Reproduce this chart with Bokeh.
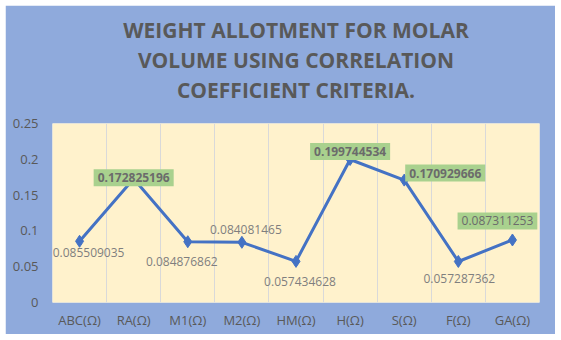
from bokeh.plotting import figure
from bokeh.models import (Title, FixedTicker, Range1d, Grid, Label)
from bokeh.embed import file_html
from bokeh.resources import INLINE

categories = ["ABC(Ω)", "RA(Ω)", "M1(Ω)", "M2(Ω)", "HM(Ω)", "H(Ω)", "S(Ω)", "F(Ω)", "GA(Ω)"]
weights = [0.085509035, 0.172825196, 0.084876862, 0.084081465, 0.057434628,
           0.199744534, 0.170929666, 0.057287362, 0.087311253]
y_ticks = [0, 0.05, 0.1, 0.15, 0.2, 0.25]
y_tick_labels = ["0", "0.05", "0.1", "0.15", "0.2", "0.25"]
title_lines = ["WEIGHT ALLOTMENT FOR MOLAR", "VOLUME USING CORRELATION", "COEFFICIENT CRITERIA."]

# label placement (screen px offsets, +y = up) and style
x_off = [9, 0, -6, 4, 4, 0, 41, 1, -15]
y_off = [-11, 1, -20, 13, -20, 8, 7, -17, 19]
boxed = [False, True, False, False, False, True, True, False, True]
bold = [False, True, False, False, False, True, True, False, False]

BLUE_BG = "#8FAADC"
CREAM = "#FFF2CC"
GREEN = "#A9D18E"
GRAY = "#595959"
LINE = "#4472C4"

xs = [i + 0.5 for i in range(len(categories))]

p = figure(width=550, height=329, output_backend="svg", toolbar_location=None,
           x_range=Range1d(0, len(categories)), y_range=Range1d(0, 0.25),
           min_border_left=47, min_border_right=16, min_border_bottom=32, min_border_top=0)
p.styles = {"margin-left": "5px", "margin-top": "5px"}
p.background_fill_color = CREAM
p.border_fill_color = BLUE_BG
p.outline_line_color = None

def spacer(size):
    return Title(text="\u00a0", text_font="Open Sans", text_font_size=size, standoff=0)

p.add_layout(spacer("13px"), "above")
for line in reversed(title_lines):
    t = Title(text=line, align="center", text_font="Open Sans", text_font_size="21px",
              text_font_style="bold", text_color=GRAY, standoff=0)
    p.add_layout(t, "above")
p.add_layout(spacer("4.5px"), "above")
p.title.visible = False

p.xaxis.ticker = FixedTicker(ticks=xs)
p.xaxis.major_label_overrides = {x: c for x, c in zip(xs, categories)}
p.yaxis.ticker = FixedTicker(ticks=y_ticks)
p.yaxis.major_label_overrides = {v: l for v, l in zip(y_ticks, y_tick_labels)}
for ax in (p.xaxis, p.yaxis):
    ax.axis_line_color = None
    ax.major_tick_line_color = None
    ax.minor_tick_line_color = None
    ax.major_tick_out = 0
    ax.major_tick_in = 0
    ax.minor_tick_out = 0
    ax.minor_tick_in = 0
    ax.major_label_text_color = GRAY
    ax.major_label_text_font = "Open Sans"
p.xaxis.major_label_text_font_size = "13px"
p.yaxis.major_label_text_font_size = "13px"
p.xaxis.major_label_standoff = 8
p.yaxis.major_label_standoff = 14

p.xgrid.visible = False
p.ygrid.visible = False
vgrid = Grid(dimension=0, ticker=FixedTicker(ticks=list(range(1, len(categories)))),
             grid_line_color="#D9D9D9", grid_line_width=1)
p.add_layout(vgrid)

p.line(xs, weights, line_color=LINE, line_width=3)
p.scatter(xs, weights, marker="diamond", size=12, fill_color=LINE, line_color=LINE)

for i, w in enumerate(weights):
    kw = dict(x=xs[i], y=w, text=f"{w:.9f}", x_offset=x_off[i], y_offset=y_off[i],
              text_align="center", text_baseline="middle", text_font="Open Sans",
              text_font_size="12px", text_font_style="bold" if bold[i] else "normal",
              level="overlay")
    if boxed[i]:
        kw.update(text_color="#6B6B6B", background_fill_color=GREEN, padding=4)
    else:
        kw.update(text_color="#7F7F7F")
    p.add_layout(Label(**kw))

open("out.html", "w").write(file_html(p, INLINE))
